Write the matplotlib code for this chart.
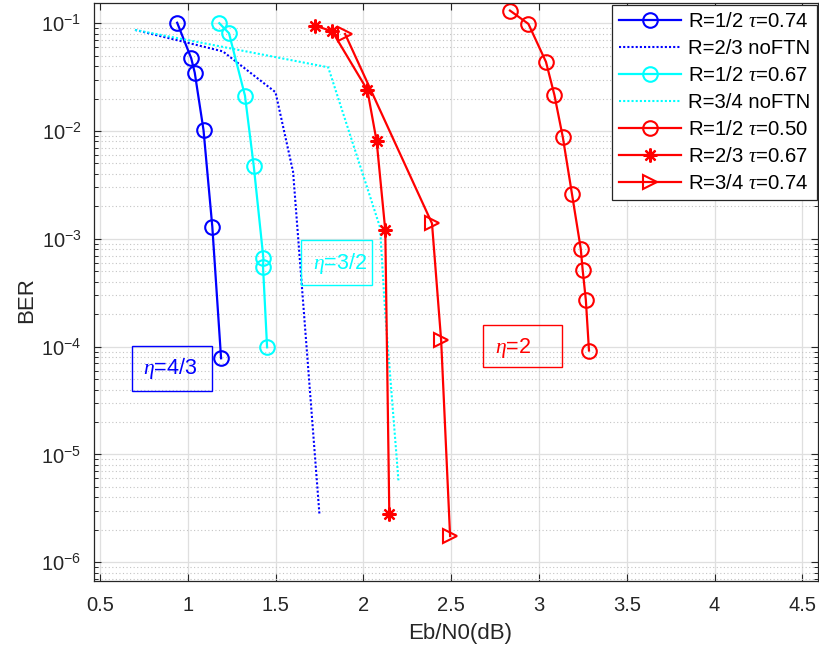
import matplotlib
matplotlib.use('Agg')
import matplotlib.pyplot as plt
from matplotlib.patches import Rectangle
from matplotlib.ticker import LogLocator, NullFormatter, FixedLocator

# ---------------- data ----------------
x_r12_t074 = [0.94, 1.02, 1.04, 1.09, 1.14, 1.19]
y_r12_t074 = [0.101, 0.0473, 0.0348, 0.0102, 1.30e-3, 7.8e-5]

x_r23_noftn = [0.70, 1.20, 1.50, 1.60, 1.75]
y_r23_noftn = [0.0867, 0.0548, 0.0229, 4.18e-3, 2.8e-6]

x_r12_t067 = [1.18, 1.235, 1.326, 1.376, 1.431, 1.429, 1.452]
y_r12_t067 = [0.100, 0.0808, 0.0213, 4.74e-3, 6.6e-4, 5.45e-4, 9.86e-5]

x_r34_noftn = [0.70, 1.80, 2.095, 2.124, 2.20]
y_r34_noftn = [0.0867, 0.039, 1.28e-3, 2.1e-4, 5.75e-6]

x_r12_t050 = [2.835, 2.94, 3.04, 3.088, 3.136, 3.188, 3.238, 3.249, 3.267, 3.285]
y_r12_t050 = [0.131, 0.0986, 0.0438, 0.0216, 8.75e-3, 2.61e-3, 8.1e-4, 5.14e-4, 2.71e-4, 9.2e-5]

x_r23_t067 = [1.725, 1.823, 2.023, 2.076, 2.125, 2.148]
y_r23_t067 = [0.095, 0.0841, 0.024, 8.0e-3, 1.2e-3, 2.79e-6]

x_r34_t074 = [1.896, 2.391, 2.443, 2.494]
y_r34_t074 = [0.0796, 1.39e-3, 1.15e-4, 1.75e-6]

labels = ['R=1/2 $\\tau$=0.74', 'R=2/3 noFTN', 'R=1/2 $\\tau$=0.67',
          'R=3/4 noFTN', 'R=1/2 $\\tau$=0.50', 'R=2/3 $\\tau$=0.67',
          'R=3/4 $\\tau$=0.74']
xticks = [0.5, 1, 1.5, 2, 2.5, 3, 3.5, 4, 4.5]
xticklabels = ['0.5', '1', '1.5', '2', '2.5', '3', '3.5', '4', '4.5']
eta_texts = ['$\\eta$=4/3', '$\\eta$=3/2', '$\\eta$=2']

# ---------------- style ----------------
plt.rcParams['font.family'] = ['Liberation Sans', 'DejaVu Sans']
plt.rcParams['mathtext.fontset'] = 'custom'
plt.rcParams['mathtext.rm'] = 'Liberation Sans'
plt.rcParams['mathtext.it'] = 'Liberation Serif:italic'
plt.rcParams['mathtext.bf'] = 'Liberation Sans:bold'

W, H = 820, 654
fig = plt.figure(figsize=(W / 100, H / 100), dpi=100)
ax = fig.add_axes([94 / W, 1 - 581 / H, (818 - 94) / W, (581 - 2.7) / H])

BLUE, CYAN, RED = (0, 0, 1), (0, 1, 1), (1, 0, 0)
lw = 1.6
ms = 10.5
mew = 1.5
dots = (0, (1, 1.0))

ax.semilogy(x_r12_t074, y_r12_t074, '-', color=BLUE, lw=lw, marker='o', ms=ms,
            mfc='none', mew=mew, label=labels[0])
ax.semilogy(x_r23_noftn, y_r23_noftn, color=BLUE, lw=1.5, ls=dots, label=labels[1])
ax.semilogy(x_r12_t067, y_r12_t067, '-', color=CYAN, lw=lw, marker='o', ms=ms,
            mfc='none', mew=mew, label=labels[2])
ax.semilogy(x_r34_noftn, y_r34_noftn, color=CYAN, lw=1.5, ls=dots, label=labels[3])
ax.semilogy(x_r12_t050, y_r12_t050, '-', color=RED, lw=lw, marker='o', ms=ms,
            mfc='none', mew=mew, label=labels[4])
ax.semilogy(x_r23_t067, y_r23_t067, '-', color=RED, lw=lw, marker=(8, 2, 0), ms=10,
            mew=1.6, label=labels[5])
ax.semilogy(x_r34_t074, y_r34_t074, '-', color=RED, lw=lw, marker='>', ms=ms,
            mfc='none', mew=mew, label=labels[6])

ax.set_xlim(0.4664, 4.589)
ax.set_ylim(6.7e-7, 0.155)
ax.xaxis.set_major_locator(FixedLocator(xticks))
ax.set_xticklabels(xticklabels)
ax.yaxis.set_major_locator(LogLocator(base=10, numticks=20))
ax.yaxis.set_minor_locator(LogLocator(base=10, subs=range(2, 10), numticks=50))
ax.yaxis.set_minor_formatter(NullFormatter())

ax.set_axisbelow(True)
ax.grid(True, which='major', color='#dfdfdf', lw=0.9, ls='-')
ax.yaxis.grid(True, which='minor', color='#c4c4c4', lw=0.8, ls=(0, (1, 2.2)))

ax.tick_params(which='both', direction='in', top=True, right=True, colors='#262626',
               labelcolor='#262626')
ax.tick_params(which='major', length=5, width=0.8, labelsize=14.5, pad=9)
ax.tick_params(which='minor', length=3.2, width=0.7)
ax.tick_params(axis='x', which='major', pad=11)
for s in ax.spines.values():
    s.set_color('#262626')
    s.set_linewidth(0.9)

ax.set_xlabel('Eb/N0(dB)', fontsize=16, color='#262626')
ax.set_ylabel('BER', fontsize=16, color='#262626')
ax.xaxis.label.set_va('center')
ax.xaxis.set_label_coords((460 - 94) / 724, (581 - 634) / 578.3)
ax.yaxis.label.set_va('center')
ax.yaxis.set_label_coords((27 - 94) / 724, (581 - 300) / 578.3)

leg = ax.legend(loc='upper right', bbox_to_anchor=(817 / W, 1 - 5 / H),
                bbox_transform=fig.transFigure, borderaxespad=0, fontsize=14.6,
                handlelength=3.05, handletextpad=0.35, labelspacing=0.395,
                borderpad=0.35, fancybox=False, framealpha=1, edgecolor='#262626')
leg.get_frame().set_linewidth(0.9)

# eta annotation boxes (figure pixel geometry)
boxes = [
    (131.7, 346, 212.3, 391, 142.7, 369, BLUE),
    (301, 240, 372, 284.6, 313, 263, CYAN),
    (483.3, 325, 561.7, 366.7, 495, 348, RED),
]
for (x0, y0, x1, y1, tx, ty, c), txt in zip(boxes, eta_texts):
    fig.add_artist(Rectangle((x0 / W, 1 - y1 / H), (x1 - x0) / W, (y1 - y0) / H,
                             transform=fig.transFigure, fill=False, ec=c, lw=1.0))
    fig.text(tx / W, 1 - ty / H, txt, color=c, fontsize=15.5, ha='left', va='center')

fig.savefig('out.png', dpi=100)
